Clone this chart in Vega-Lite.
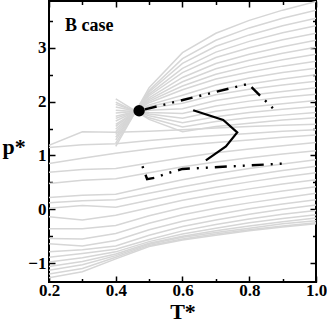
{
"$schema": "https://vega.github.io/schema/vega-lite/v6.json",
"width": 267, "height": 281,
"autosize": "none",
"padding": {"left": 49, "top": 1, "right": 11, "bottom": 42},
"config": {"view": {"stroke": "black", "strokeWidth": 2}, "font": "Liberation Serif"},
"datasets": {
"gray": [
{"g":"L1","T":0.2,"p":1.19},{"g":"L1","T":0.3,"p":1.44},{"g":"L1","T":0.4,"p":1.43},{"g":"L1","T":0.5,"p":1.45},{"g":"L1","T":0.6,"p":1.48},{"g":"L1","T":0.7,"p":1.51},{"g":"L1","T":0.8,"p":1.54},{"g":"L1","T":0.9,"p":1.56},{"g":"L1","T":1.0,"p":1.58},
{"g":"L2","T":0.2,"p":1.15},{"g":"L2","T":0.3,"p":1.2},{"g":"L2","T":0.4,"p":1.22},{"g":"L2","T":0.5,"p":1.28},{"g":"L2","T":0.6,"p":1.33},{"g":"L2","T":0.7,"p":1.37},{"g":"L2","T":0.8,"p":1.41},{"g":"L2","T":0.9,"p":1.45},{"g":"L2","T":1.0,"p":1.48},
{"g":"L3","T":0.2,"p":0.85},{"g":"L3","T":0.3,"p":0.95},{"g":"L3","T":0.4,"p":1.04},{"g":"L3","T":0.5,"p":1.12},{"g":"L3","T":0.6,"p":1.19},{"g":"L3","T":0.7,"p":1.24},{"g":"L3","T":0.8,"p":1.29},{"g":"L3","T":0.9,"p":1.34},{"g":"L3","T":1.0,"p":1.38},
{"g":"L4","T":0.2,"p":0.69},{"g":"L4","T":0.3,"p":0.74},{"g":"L4","T":0.4,"p":0.76},{"g":"L4","T":0.5,"p":0.86},{"g":"L4","T":0.6,"p":0.96},{"g":"L4","T":0.7,"p":1.05},{"g":"L4","T":0.8,"p":1.12},{"g":"L4","T":0.9,"p":1.18},{"g":"L4","T":1.0,"p":1.24},
{"g":"L5","T":0.2,"p":0.48},{"g":"L5","T":0.3,"p":0.54},{"g":"L5","T":0.4,"p":0.57},{"g":"L5","T":0.5,"p":0.68},{"g":"L5","T":0.6,"p":0.79},{"g":"L5","T":0.7,"p":0.88},{"g":"L5","T":0.8,"p":0.96},{"g":"L5","T":0.9,"p":1.03},{"g":"L5","T":1.0,"p":1.09},
{"g":"L6","T":0.2,"p":0.22},{"g":"L6","T":0.3,"p":0.26},{"g":"L6","T":0.4,"p":0.28},{"g":"L6","T":0.5,"p":0.42},{"g":"L6","T":0.6,"p":0.55},{"g":"L6","T":0.7,"p":0.66},{"g":"L6","T":0.8,"p":0.76},{"g":"L6","T":0.9,"p":0.84},{"g":"L6","T":1.0,"p":0.92},
{"g":"L7","T":0.2,"p":0.12},{"g":"L7","T":0.3,"p":0.16},{"g":"L7","T":0.4,"p":0.18},{"g":"L7","T":0.5,"p":0.3},{"g":"L7","T":0.6,"p":0.42},{"g":"L7","T":0.7,"p":0.53},{"g":"L7","T":0.8,"p":0.63},{"g":"L7","T":0.9,"p":0.72},{"g":"L7","T":1.0,"p":0.8},
{"g":"L8","T":0.2,"p":0.02},{"g":"L8","T":0.3,"p":0.07},{"g":"L8","T":0.4,"p":0.04},{"g":"L8","T":0.5,"p":0.17},{"g":"L8","T":0.6,"p":0.3},{"g":"L8","T":0.7,"p":0.41},{"g":"L8","T":0.8,"p":0.51},{"g":"L8","T":0.9,"p":0.6},{"g":"L8","T":1.0,"p":0.68},
{"g":"L9","T":0.2,"p":-0.14},{"g":"L9","T":0.3,"p":-0.2},{"g":"L9","T":0.4,"p":-0.11},{"g":"L9","T":0.5,"p":0.03},{"g":"L9","T":0.6,"p":0.17},{"g":"L9","T":0.7,"p":0.28},{"g":"L9","T":0.8,"p":0.38},{"g":"L9","T":0.9,"p":0.47},{"g":"L9","T":1.0,"p":0.55},
{"g":"L10","T":0.2,"p":-0.36},{"g":"L10","T":0.3,"p":-0.36},{"g":"L10","T":0.4,"p":-0.3},{"g":"L10","T":0.5,"p":-0.12},{"g":"L10","T":0.6,"p":0.03},{"g":"L10","T":0.7,"p":0.15},{"g":"L10","T":0.8,"p":0.25},{"g":"L10","T":0.9,"p":0.34},{"g":"L10","T":1.0,"p":0.42},
{"g":"L11","T":0.2,"p":-0.54},{"g":"L11","T":0.3,"p":-0.55},{"g":"L11","T":0.4,"p":-0.45},{"g":"L11","T":0.5,"p":-0.26},{"g":"L11","T":0.6,"p":-0.1},{"g":"L11","T":0.7,"p":0.02},{"g":"L11","T":0.8,"p":0.12},{"g":"L11","T":0.9,"p":0.21},{"g":"L11","T":1.0,"p":0.3},
{"g":"L12","T":0.2,"p":-0.64},{"g":"L12","T":0.3,"p":-0.68},{"g":"L12","T":0.4,"p":-0.58},{"g":"L12","T":0.5,"p":-0.38},{"g":"L12","T":0.6,"p":-0.22},{"g":"L12","T":0.7,"p":-0.1},{"g":"L12","T":0.8,"p":0.01},{"g":"L12","T":0.9,"p":0.1},{"g":"L12","T":1.0,"p":0.18},
{"g":"L13","T":0.2,"p":-0.79},{"g":"L13","T":0.3,"p":-0.75},{"g":"L13","T":0.4,"p":-0.68},{"g":"L13","T":0.5,"p":-0.48},{"g":"L13","T":0.6,"p":-0.32},{"g":"L13","T":0.7,"p":-0.2},{"g":"L13","T":0.8,"p":-0.09},{"g":"L13","T":0.9,"p":0.0},{"g":"L13","T":1.0,"p":0.08},
{"g":"L14","T":0.2,"p":-0.89},{"g":"L14","T":0.3,"p":-0.82},{"g":"L14","T":0.4,"p":-0.74},{"g":"L14","T":0.5,"p":-0.56},{"g":"L14","T":0.6,"p":-0.4},{"g":"L14","T":0.7,"p":-0.28},{"g":"L14","T":0.8,"p":-0.18},{"g":"L14","T":0.9,"p":-0.09},{"g":"L14","T":1.0,"p":-0.02},
{"g":"L15","T":0.2,"p":-0.98},{"g":"L15","T":0.3,"p":-0.9},{"g":"L15","T":0.4,"p":-0.79},{"g":"L15","T":0.5,"p":-0.6},{"g":"L15","T":0.6,"p":-0.46},{"g":"L15","T":0.7,"p":-0.35},{"g":"L15","T":0.8,"p":-0.25},{"g":"L15","T":0.9,"p":-0.17},{"g":"L15","T":1.0,"p":-0.1},
{"g":"L16","T":0.2,"p":-1.06},{"g":"L16","T":0.3,"p":-0.97},{"g":"L16","T":0.4,"p":-0.83},{"g":"L16","T":0.5,"p":-0.63},{"g":"L16","T":0.6,"p":-0.5},{"g":"L16","T":0.7,"p":-0.4},{"g":"L16","T":0.8,"p":-0.31},{"g":"L16","T":0.9,"p":-0.23},{"g":"L16","T":1.0,"p":-0.16},
{"g":"L17","T":0.2,"p":-1.13},{"g":"L17","T":0.3,"p":-1.03},{"g":"L17","T":0.4,"p":-0.86},{"g":"L17","T":0.5,"p":-0.65},{"g":"L17","T":0.6,"p":-0.52},{"g":"L17","T":0.7,"p":-0.43},{"g":"L17","T":0.8,"p":-0.35},{"g":"L17","T":0.9,"p":-0.27},{"g":"L17","T":1.0,"p":-0.21},
{"g":"L18","T":0.2,"p":-1.2},{"g":"L18","T":0.3,"p":-1.1},{"g":"L18","T":0.4,"p":-0.89},{"g":"L18","T":0.5,"p":-0.67},{"g":"L18","T":0.6,"p":-0.55},{"g":"L18","T":0.7,"p":-0.46},{"g":"L18","T":0.8,"p":-0.38},{"g":"L18","T":0.9,"p":-0.31},{"g":"L18","T":1.0,"p":-0.25},
{"g":"L19","T":0.2,"p":-1.27},{"g":"L19","T":0.3,"p":-1.16},{"g":"L19","T":0.4,"p":-0.92},{"g":"L19","T":0.5,"p":-0.69},{"g":"L19","T":0.6,"p":-0.57},{"g":"L19","T":0.7,"p":-0.48},{"g":"L19","T":0.8,"p":-0.4},{"g":"L19","T":0.9,"p":-0.33},{"g":"L19","T":1.0,"p":-0.27},
{"g":"U1","T":0.4,"p":1.17},{"g":"U1","T":0.5,"p":2.26},{"g":"U1","T":0.6,"p":2.91},{"g":"U1","T":0.7,"p":3.27},{"g":"U1","T":0.8,"p":3.51},{"g":"U1","T":0.9,"p":3.7},{"g":"U1","T":1.0,"p":3.86},
{"g":"U2","T":0.4,"p":1.23},{"g":"U2","T":0.5,"p":2.21},{"g":"U2","T":0.6,"p":2.8},{"g":"U2","T":0.7,"p":3.14},{"g":"U2","T":0.8,"p":3.37},{"g":"U2","T":0.9,"p":3.55},{"g":"U2","T":1.0,"p":3.7},
{"g":"U3","T":0.4,"p":1.29},{"g":"U3","T":0.5,"p":2.18},{"g":"U3","T":0.6,"p":2.71},{"g":"U3","T":0.7,"p":3.03},{"g":"U3","T":0.8,"p":3.24},{"g":"U3","T":0.9,"p":3.41},{"g":"U3","T":1.0,"p":3.55},
{"g":"U4","T":0.4,"p":1.34},{"g":"U4","T":0.5,"p":2.14},{"g":"U4","T":0.6,"p":2.62},{"g":"U4","T":0.7,"p":2.92},{"g":"U4","T":0.8,"p":3.12},{"g":"U4","T":0.9,"p":3.28},{"g":"U4","T":1.0,"p":3.41},
{"g":"U5","T":0.4,"p":1.39},{"g":"U5","T":0.5,"p":2.11},{"g":"U5","T":0.6,"p":2.54},{"g":"U5","T":0.7,"p":2.82},{"g":"U5","T":0.8,"p":3.0},{"g":"U5","T":0.9,"p":3.15},{"g":"U5","T":1.0,"p":3.27},
{"g":"U6","T":0.4,"p":1.44},{"g":"U6","T":0.5,"p":2.07},{"g":"U6","T":0.6,"p":2.45},{"g":"U6","T":0.7,"p":2.71},{"g":"U6","T":0.8,"p":2.88},{"g":"U6","T":0.9,"p":3.02},{"g":"U6","T":1.0,"p":3.14},
{"g":"U7","T":0.4,"p":1.49},{"g":"U7","T":0.5,"p":2.04},{"g":"U7","T":0.6,"p":2.37},{"g":"U7","T":0.7,"p":2.61},{"g":"U7","T":0.8,"p":2.77},{"g":"U7","T":0.9,"p":2.9},{"g":"U7","T":1.0,"p":3.01},
{"g":"U8","T":0.4,"p":1.54},{"g":"U8","T":0.5,"p":2.01},{"g":"U8","T":0.6,"p":2.29},{"g":"U8","T":0.7,"p":2.51},{"g":"U8","T":0.8,"p":2.66},{"g":"U8","T":0.9,"p":2.78},{"g":"U8","T":1.0,"p":2.88},
{"g":"U9","T":0.4,"p":1.58},{"g":"U9","T":0.5,"p":1.98},{"g":"U9","T":0.6,"p":2.22},{"g":"U9","T":0.7,"p":2.42},{"g":"U9","T":0.8,"p":2.55},{"g":"U9","T":0.9,"p":2.66},{"g":"U9","T":1.0,"p":2.75},
{"g":"U10","T":0.4,"p":1.64},{"g":"U10","T":0.5,"p":1.94},{"g":"U10","T":0.6,"p":2.12},{"g":"U10","T":0.7,"p":2.31},{"g":"U10","T":0.8,"p":2.44},{"g":"U10","T":0.9,"p":2.54},{"g":"U10","T":1.0,"p":2.62},
{"g":"U11","T":0.4,"p":1.69},{"g":"U11","T":0.5,"p":1.91},{"g":"U11","T":0.6,"p":2.04},{"g":"U11","T":0.7,"p":2.21},{"g":"U11","T":0.8,"p":2.33},{"g":"U11","T":0.9,"p":2.42},{"g":"U11","T":1.0,"p":2.5},
{"g":"U12","T":0.4,"p":1.73},{"g":"U12","T":0.5,"p":1.88},{"g":"U12","T":0.6,"p":1.97},{"g":"U12","T":0.7,"p":2.13},{"g":"U12","T":0.8,"p":2.23},{"g":"U12","T":0.9,"p":2.31},{"g":"U12","T":1.0,"p":2.38},
{"g":"U13","T":0.4,"p":1.79},{"g":"U13","T":0.5,"p":1.84},{"g":"U13","T":0.6,"p":1.87},{"g":"U13","T":0.7,"p":2.02},{"g":"U13","T":0.8,"p":2.12},{"g":"U13","T":0.9,"p":2.19},{"g":"U13","T":1.0,"p":2.26},
{"g":"U14","T":0.4,"p":1.84},{"g":"U14","T":0.5,"p":1.8},{"g":"U14","T":0.6,"p":1.78},{"g":"U14","T":0.7,"p":1.92},{"g":"U14","T":0.8,"p":2.01},{"g":"U14","T":0.9,"p":2.08},{"g":"U14","T":1.0,"p":2.14},
{"g":"U15","T":0.4,"p":1.9},{"g":"U15","T":0.5,"p":1.77},{"g":"U15","T":0.6,"p":1.69},{"g":"U15","T":0.7,"p":1.82},{"g":"U15","T":0.8,"p":1.9},{"g":"U15","T":0.9,"p":1.96},{"g":"U15","T":1.0,"p":2.02},
{"g":"U16","T":0.4,"p":1.95},{"g":"U16","T":0.5,"p":1.74},{"g":"U16","T":0.6,"p":1.61},{"g":"U16","T":0.7,"p":1.72},{"g":"U16","T":0.8,"p":1.8},{"g":"U16","T":0.9,"p":1.86},{"g":"U16","T":1.0,"p":1.91},
{"g":"U17","T":0.4,"p":1.99},{"g":"U17","T":0.5,"p":1.7},{"g":"U17","T":0.6,"p":1.53},{"g":"U17","T":0.7,"p":1.63},{"g":"U17","T":0.8,"p":1.7},{"g":"U17","T":0.9,"p":1.75},{"g":"U17","T":1.0,"p":1.8},
{"g":"U18","T":0.4,"p":2.05},{"g":"U18","T":0.5,"p":1.67},{"g":"U18","T":0.6,"p":1.44},{"g":"U18","T":0.7,"p":1.54},{"g":"U18","T":0.8,"p":1.6},{"g":"U18","T":0.9,"p":1.66},{"g":"U18","T":1.0,"p":1.7}
],
"solid": [
{"i":1,"T":0.632,"p":1.84},{"i":2,"T":0.722,"p":1.66},{"i":3,"T":0.764,"p":1.43},{"i":4,"T":0.73,"p":1.17},{"i":5,"T":0.67,"p":0.91}
],
"upper": [
{"i":1,"T":0.47,"p":1.83},{"i":2,"T":0.797,"p":2.33},{"i":3,"T":0.882,"p":1.81}
],
"lower": [
{"i":1,"T":0.48,"p":0.8},{"i":2,"T":0.494,"p":0.56},{"i":3,"T":0.52,"p":0.59},{"i":4,"T":0.55,"p":0.66},{"i":5,"T":0.6,"p":0.75},{"i":6,"T":0.9,"p":0.85}
],
"cp": [{"T":0.47,"p":1.83}],
"lab": [{"T":0.248,"p":3.32,"t":"B case"}]
},
"resolve": {"axis": {"x": "independent", "y": "independent"}},
"layer": [
{
"data": {"name": "gray"},
"mark": {"type": "line", "color": "#d6d6d6", "strokeWidth": 1.5, "clip": true},
"encoding": {
"x": {"field": "T", "type": "quantitative", "scale": {"domain": [0.2, 1.0], "nice": false, "zero": false},
 "axis": {"orient": "bottom", "values": [0.2, 0.4, 0.6, 0.8, 1.0], "format": ".1f", "grid": false, "domain": false, "tickSize": -6, "tickWidth": 1.5, "tickColor": "black", "labelFont": "Liberation Serif", "labelFontWeight": "bold", "labelFontSize": 17, "labelColor": "black", "labelPadding": 6, "labelFlush": false, "title": "T*", "titleFont": "Liberation Serif", "titleFontWeight": "bold", "titleFontSize": 22, "titleColor": "black", "titleBaseline": "alphabetic", "titleY": 36}},
"y": {"field": "p", "type": "quantitative", "scale": {"domain": [-1.35, 3.87], "nice": false, "zero": false},
 "axis": {"orient": "left", "values": [-1, 0, 1, 2, 3], "format": "d", "grid": false, "domain": false, "tickSize": -6, "tickWidth": 1.5, "tickColor": "black", "labelFont": "Liberation Serif", "labelFontWeight": "bold", "labelFontSize": 17, "labelColor": "black", "labelPadding": 9, "labelFlush": false, "title": "p*", "titleFont": "Liberation Serif", "titleFontWeight": "bold", "titleFontSize": 22, "titleColor": "black", "titleAngle": 0, "titleAlign": "left", "titleBaseline": "alphabetic", "titleX": -47, "titleY": 152}},
"detail": {"field": "g"}
}
},
{
"data": {"name": "solid"},
"mark": {"type": "line", "color": "black", "strokeWidth": 2.2},
"encoding": {
"x": {"field": "T", "type": "quantitative", "scale": {"domain": [0.2, 1.0], "nice": false, "zero": false},
 "axis": {"orient": "bottom", "values": [0.3, 0.5, 0.7, 0.9], "labels": false, "grid": false, "domain": false, "tickSize": -3.5, "tickWidth": 1.5, "tickColor": "black", "title": null}},
"y": {"field": "p", "type": "quantitative", "scale": {"domain": [-1.35, 3.87], "nice": false, "zero": false},
 "axis": {"orient": "left", "values": [-0.5, 0.5, 1.5, 2.5, 3.5], "labels": false, "grid": false, "domain": false, "tickSize": -3.5, "tickWidth": 1.5, "tickColor": "black", "title": null}},
"order": {"field": "i"}
}
},
{
"data": {"name": "upper"},
"mark": {"type": "line", "color": "black", "strokeWidth": 2.4, "strokeDash": [12, 7, 2, 7, 2, 7], "strokeDashOffset": -6},
"encoding": {
"x": {"field": "T", "type": "quantitative", "scale": {"domain": [0.2, 1.0], "nice": false, "zero": false},
 "axis": {"orient": "top", "values": [0.2, 0.4, 0.6, 0.8, 1.0], "labels": false, "grid": false, "domain": false, "tickSize": -6, "tickWidth": 1.5, "tickColor": "black", "title": null}},
"y": {"field": "p", "type": "quantitative", "scale": {"domain": [-1.35, 3.87], "nice": false, "zero": false},
 "axis": {"orient": "right", "values": [-1, 0, 1, 2, 3], "labels": false, "grid": false, "domain": false, "tickSize": -6, "tickWidth": 1.5, "tickColor": "black", "title": null}},
"order": {"field": "i"}
}
},
{
"data": {"name": "lower"},
"mark": {"type": "line", "color": "black", "strokeWidth": 2.4, "strokeDash": [2, 7, 12, 7, 2, 7]},
"encoding": {
"x": {"field": "T", "type": "quantitative", "scale": {"domain": [0.2, 1.0], "nice": false, "zero": false},
 "axis": {"orient": "top", "values": [0.3, 0.5, 0.7, 0.9], "labels": false, "grid": false, "domain": false, "tickSize": -3.5, "tickWidth": 1.5, "tickColor": "black", "title": null}},
"y": {"field": "p", "type": "quantitative", "scale": {"domain": [-1.35, 3.87], "nice": false, "zero": false},
 "axis": {"orient": "right", "values": [-0.5, 0.5, 1.5, 2.5, 3.5], "labels": false, "grid": false, "domain": false, "tickSize": -3.5, "tickWidth": 1.5, "tickColor": "black", "title": null}},
"order": {"field": "i"}
}
},
{
"data": {"name": "cp"},
"mark": {"type": "point", "filled": true, "color": "black", "opacity": 1, "size": 130},
"encoding": {
"x": {"field": "T", "type": "quantitative", "axis": null},
"y": {"field": "p", "type": "quantitative", "axis": null}
}
},
{
"data": {"name": "lab"},
"mark": {"type": "text", "font": "Liberation Serif", "fontWeight": "bold", "fontSize": 18, "align": "left", "baseline": "alphabetic", "color": "black"},
"encoding": {
"x": {"field": "T", "type": "quantitative", "axis": null},
"y": {"field": "p", "type": "quantitative", "axis": null},
"text": {"field": "t"}
}
}
]
}
